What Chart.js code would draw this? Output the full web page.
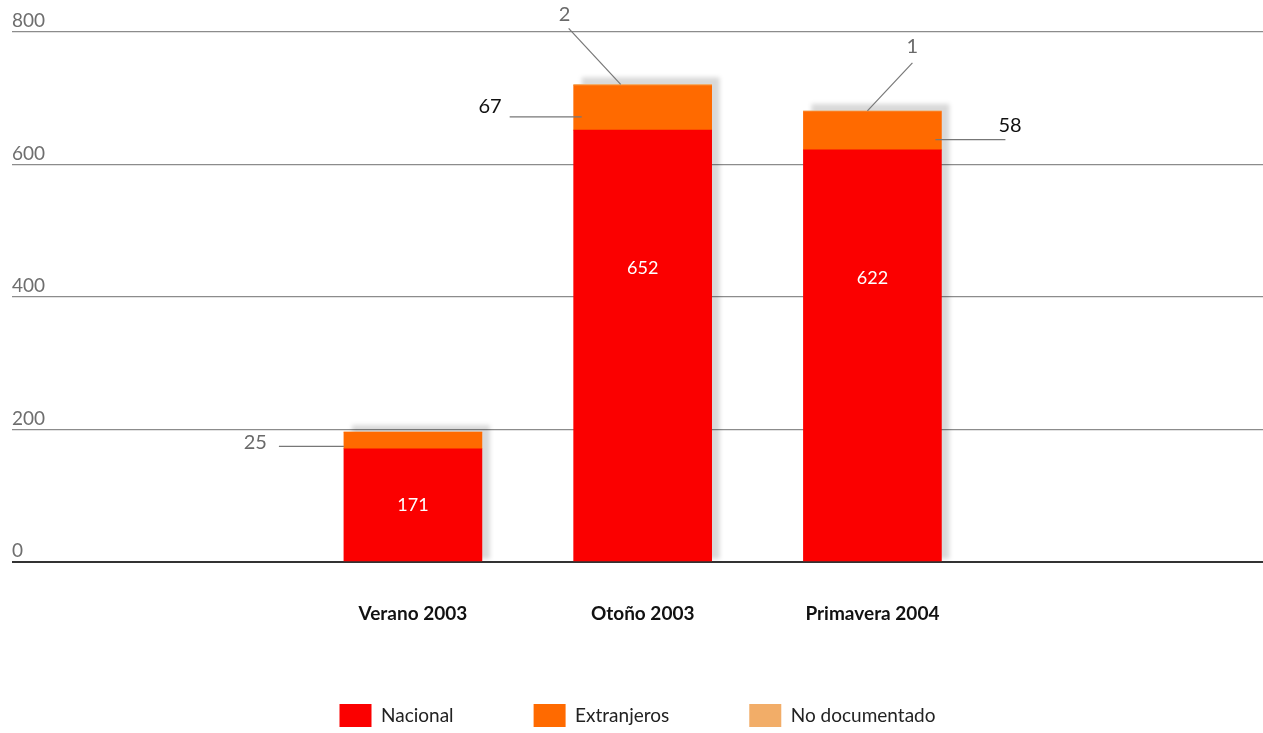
<!DOCTYPE html>
<html>
<head>
<meta charset="utf-8">
<script src="https://cdn.jsdelivr.net/npm/chart.js@4/dist/chart.umd.min.js"></script>
<style>
  html, body { margin: 0; padding: 0; background: #ffffff; }
  #wrap { width: 1263px; height: 733px; }
</style>
</head>
<body>
<div id="wrap"><canvas id="c" width="1263" height="733"></canvas></div>
<script>
// ---- data ----
const categories = ['Verano 2003', 'Otoño 2003', 'Primavera 2004'];
const nacional = [171, 652, 622];
const extranjeros = [25, 67, 58];
const noDocumentado = [0, 2, 1];
const seriesNames = ['Nacional', 'Extranjeros', 'No documentado'];
const yTicks = [0, 200, 400, 600, 800];

const toPoints = arr => arr.map((v, i) => ({ x: i + 1, y: v }));

// soft drop shadow behind each whole stacked bar (from the library's bar elements)
const barShadow = {
  id: 'barShadow',
  beforeDatasetsDraw(chart) {
    const ctx = chart.ctx;
    const metas = chart.data.datasets.map((d, i) => chart.getDatasetMeta(i));
    ctx.save();
    ctx.filter = 'blur(2px)';
    ctx.fillStyle = 'rgba(0,0,0,0.15)';
    metas[0].data.forEach((el, i) => {
      let top = el.y;
      metas.forEach(m => { top = Math.min(top, m.data[i].y); });
      const left = el.x - el.width / 2;
      ctx.fillRect(left + 8, top - 7, el.width, el.base - top + 7 - 2);
    });
    ctx.restore();
  }
};

// white labels inside the red bars
const innerLabels = {
  id: 'innerLabels',
  afterDatasetsDraw(chart) {
    const ctx = chart.ctx;
    const meta = chart.getDatasetMeta(0);
    const ys = chart.scales.y;
    ctx.save();
    ctx.fillStyle = '#ffffff';
    ctx.font = '18px Lato, "Open Sans", sans-serif';
    ctx.textAlign = 'center';
    ctx.textBaseline = 'middle';
    meta.data.forEach((el, i) => {
      const v = nacional[i];
      const pos = v > 400 ? v / 2 + 118 : v / 2;
      ctx.fillText(String(v), el.x, ys.getPixelForValue(pos));
    });
    ctx.restore();
  }
};

// callout labels with leader lines
const callouts = {
  id: 'callouts',
  afterDatasetsDraw(chart) {
    const ctx = chart.ctx;
    const ext = chart.getDatasetMeta(1).data;
    const nd = chart.getDatasetMeta(2).data;
    const grey = '#6a6a6a';
    const black = '#111111';
    ctx.save();
    ctx.font = '20px Lato, "Open Sans", sans-serif';
    ctx.textBaseline = 'middle';
    ctx.lineWidth = 1.2;
    ctx.strokeStyle = '#777777';
    const line = (x1, y1, x2, y2) => { ctx.beginPath(); ctx.moveTo(x1, y1); ctx.lineTo(x2, y2); ctx.stroke(); };
    const text = (t, x, y, align, color) => { ctx.fillStyle = color; ctx.textAlign = align; ctx.fillText(t, x, y); };

    // Verano - extranjeros
    let el = ext[0];
    let left = el.x - el.width / 2, right = el.x + el.width / 2, mid = (el.y + el.base) / 2;
    line(left - 65, mid + 6, left, mid + 6);
    text(String(extranjeros[0]), left - 77, mid + 2, 'right', grey);

    // Otoño - extranjeros
    el = ext[1];
    left = el.x - el.width / 2; mid = (el.y + el.base) / 2;
    line(left - 64, mid + 9, left + 8, mid + 9);
    text(String(extranjeros[1]), left - 72, mid - 1, 'right', black);

    // Primavera - extranjeros
    el = ext[2];
    right = el.x + el.width / 2; mid = (el.y + el.base) / 2;
    line(right - 6, mid + 9, right + 64, mid + 9);
    text(String(extranjeros[2]), right + 57, mid - 5, 'left', black);

    // Otoño - no documentado
    el = nd[1];
    line(el.x - 74, el.y - 56, el.x - 22, el.y);
    text(String(noDocumentado[1]), el.x - 78, el.y - 70, 'center', grey);

    // Primavera - no documentado
    el = nd[2];
    line(el.x + 40, el.y - 48, el.x - 5, el.y);
    text(String(noDocumentado[2]), el.x + 40, el.y - 64, 'center', grey);

    ctx.restore();
  }
};

new Chart(document.getElementById('c'), {
  type: 'bar',
  data: {
    datasets: [
      { label: seriesNames[0], data: toPoints(nacional), backgroundColor: '#fb0000' },
      { label: seriesNames[1], data: toPoints(extranjeros), backgroundColor: '#ff6a00' },
      { label: seriesNames[2], data: toPoints(noDocumentado), backgroundColor: '#f2ad68' }
    ]
  },
  options: {
    responsive: false,
    animation: false,
    devicePixelRatio: 1,
    layout: { padding: { left: 12, right: 0, top: 32, bottom: -4 } },
    datasets: { bar: { barThickness: 138, borderWidth: 0 } },
    plugins: {
      tooltip: { enabled: false },
      legend: {
        position: 'bottom',
        labels: {
          boxWidth: 32,
          boxHeight: 23,
          padding: 80,
          color: '#222222',
          font: { family: 'Lato, "Open Sans", sans-serif', size: 19 }
        }
      }
    },
    scales: {
      x: {
        type: 'linear',
        stacked: true,
        offset: false,
        min: -0.745,
        max: 4.70,
        afterFit: (scale) => { scale.height = 62; scale.paddingLeft = 0; scale.paddingRight = 0; },
        grid: { display: false, drawTicks: false, offset: false },
        border: { display: false },
        ticks: {
          stepSize: 1,
          autoSkip: false,
          maxRotation: 0,
          padding: 40,
          color: '#111111',
          font: { family: 'Lato, "Open Sans", sans-serif', size: 19, weight: 'bold' },
          callback: (v) => {
            const r = Math.round(v);
            if (Math.abs(v - r) > 1e-6) return '';
            return categories[r - 1] || '';
          }
        }
      },
      y: {
        stacked: true,
        min: yTicks[0],
        max: yTicks[yTicks.length - 1],
        afterBuildTicks: (scale) => { scale.ticks = yTicks.map(v => ({ value: v })); },
        afterFit: (scale) => { scale.width = 0; },
        grid: {
          drawTicks: false,
          tickLength: 0,
          color: (c) => (c.tick && c.tick.value === 0) ? '#333333' : '#8c8c8c',
          lineWidth: (c) => (c.tick && c.tick.value === 0) ? 2 : 1.3
        },
        border: { display: false },
        ticks: {
          mirror: true,
          padding: 0,
          labelOffset: -11,
          color: '#6e6e6e',
          font: { family: 'Lato, "Open Sans", sans-serif', size: 19 }
        }
      }
    }
  },
  plugins: [barShadow, innerLabels, callouts]
});
</script>
</body>
</html>
